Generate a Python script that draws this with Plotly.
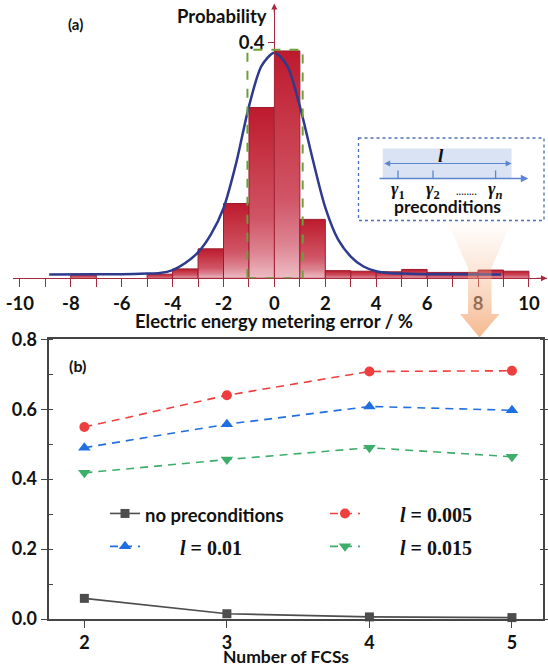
import plotly.graph_objects as go

# ---------------- data: panel (a) ----------------
bin_left = [-8, -5, -4, -3, -2, -1, 0, 1, 2, 3, 4, 5, 6, 7, 8, 9]
bin_prob = [0.007, 0.007, 0.016, 0.050, 0.127, 0.290, 0.386, 0.100,
            0.013, 0.012, 0.011, 0.015, 0.010, 0.010, 0.014, 0.012]
bin_width = 1
fit_x = [-8.85, -7, -6, -5, -4.5, -4, -3.5, -3, -2.5, -2, -1.5, -1, -0.5, 0,
         0.5, 1, 1.5, 2, 2.5, 3, 3.5, 4, 4.5, 5, 6, 7, 8.9]
fit_p = [0.0065, 0.0068, 0.007, 0.008, 0.009, 0.014, 0.026, 0.044, 0.074, 0.119,
         0.196, 0.292, 0.361, 0.383, 0.361, 0.292, 0.203, 0.120, 0.066, 0.037,
         0.020, 0.012, 0.009, 0.008, 0.007, 0.0068, 0.0065]
a_xticks = list(range(-10, 11))
a_xlabels = [str(v) if v % 2 == 0 else "" for v in a_xticks]
a_yticks = [0.4]
a_ylabels = ["0.4"]

# ---------------- data: panel (b) ----------------
fcs = [2, 3, 4, 5]
no_pre = [0.059, 0.015, 0.006, 0.004]
l_005 = [0.549, 0.640, 0.708, 0.710]
l_010 = [0.490, 0.557, 0.608, 0.597]
l_015 = [0.418, 0.456, 0.490, 0.464]
b_yticks = [0.0, 0.2, 0.4, 0.6, 0.8]

# ---------------- helpers ----------------
W, H = 548, 668
def px(x):
    return x / W
def py(y):
    return 1 - y / H

SANS = "Lato"
SERIF = "Liberation Serif"
RED_AX = "#A8283C"
GRAY_AX = "#454545"
BLUE_IN = "#5B85D0"

fig = go.Figure()

grad = [[0, "#EDBDC4"], [0.15, "#DD8492"], [0.35, "#D05566"], [0.7, "#C63646"], [1, "#BD1A2D"]]
for l, h in zip(bin_left, bin_prob):
    r = l + bin_width
    fig.add_trace(go.Scatter(
        x=[l, l, r, r, l], y=[0, h, h, 0, 0], mode="lines", fill="toself",
        fillgradient=dict(type="vertical", colorscale=grad),
        line=dict(color="#9B1B2D", width=1), xaxis="x", yaxis="y",
        showlegend=False, hoverinfo="skip"))

fig.add_trace(go.Scatter(
    x=fit_x, y=fit_p, mode="lines",
    line=dict(color="#2E3A8C", width=2.5, shape="spline", smoothing=0.8),
    xaxis="x", yaxis="y", showlegend=False, hoverinfo="skip"))

nb = "\u00a0"
def serif_name(txt, pad):
    return (f'<span style="font-family:{SERIF};font-size:20px">{nb * pad}'
            f'<i>l</i> = {txt}</span>')

fig.add_trace(go.Scatter(
    x=fcs, y=no_pre, mode="lines+markers",
    name='<span style="font-size:18.5px">no preconditions</span>',
    line=dict(color="#4D4D4D", width=1.6),
    marker=dict(symbol="square", size=9, color="#4D4D4D"),
    xaxis="x2", yaxis="y2", cliponaxis=False))
fig.add_trace(go.Scatter(
    x=fcs, y=l_005, mode="lines+markers", name=serif_name("0.005", 7),
    line=dict(color="#EF3E3E", width=1.6, dash="8px,6px"),
    marker=dict(symbol="circle", size=10, color="#EF3E3E"),
    xaxis="x2", yaxis="y2", cliponaxis=False))
fig.add_trace(go.Scatter(
    x=fcs, y=l_010, mode="lines+markers", name=serif_name("0.01", 7),
    line=dict(color="#1F6FE0", width=1.6, dash="8px,6px"),
    marker=dict(symbol="triangle-up", size=11, color="#1F6FE0"),
    xaxis="x2", yaxis="y2", cliponaxis=False))
fig.add_trace(go.Scatter(
    x=fcs, y=l_015, mode="lines+markers", name=serif_name("0.015", 7),
    line=dict(color="#3DAE6A", width=1.6, dash="8px,6px"),
    marker=dict(symbol="triangle-down", size=11, color="#3DAE6A"),
    xaxis="x2", yaxis="y2", cliponaxis=False))

# orange funnel arrow (decoration, pixel overlay)
fx = [447, 512, 491.5, 491.5, 499.5, 479.5, 460, 468, 468, 447]
fy = [221, 221, 268, 314, 314, 337.5, 314, 314, 268, 221]
fig.add_trace(go.Scatter(
    x=fx, y=fy, mode="lines", fill="toself", line=dict(width=0, color="rgba(0,0,0,0)"),
    fillgradient=dict(type="vertical", start=221, stop=337.5,
                      colorscale=[[0, "rgba(244,177,131,0)"], [0.4, "rgba(244,177,131,0.3)"],
                                  [0.68, "rgba(244,177,131,0.55)"], [1, "rgba(244,177,131,0.9)"]]),
    xaxis="x3", yaxis="y3", showlegend=False, hoverinfo="skip"))

boldA = dict(family=SANS, size=18.5, color="#111111", weight="bold")
boldB = dict(family=SANS, size=18, color="#111111", weight="bold")

fig.update_layout(
    width=W, height=H, margin=dict(l=0, r=0, t=0, b=0, autoexpand=False),
    paper_bgcolor="white", plot_bgcolor="rgba(0,0,0,0)",
    xaxis=dict(domain=[px(12.7), px(546.7)], range=[-10.283, 10.699], anchor="y",
               showline=True, linecolor=RED_AX, linewidth=1.2, ticks="outside",
               ticklen=8, tickcolor=RED_AX, tickwidth=1, tickvals=a_xticks,
               ticktext=a_xlabels, tickfont=boldA, showgrid=False, zeroline=False),
    yaxis=dict(domain=[py(278.3), py(5)], range=[0, 0.464], anchor="free",
               position=px(274.3), showline=True, linecolor=RED_AX, linewidth=1.2,
               ticks="outside", ticklen=6, tickcolor=RED_AX, tickvals=a_yticks,
               ticktext=a_ylabels, tickfont=boldA, showgrid=False, zeroline=False),
    xaxis2=dict(domain=[px(49.3), px(543.3)], range=[1.754, 5.22], anchor="y2",
                showline=True, mirror=True, linecolor=GRAY_AX, linewidth=1.5,
                ticks="outside", ticklen=7, tickcolor=GRAY_AX, tickvals=fcs,
                tickfont=boldB, showgrid=False, zeroline=False),
    xaxis4=dict(overlaying="x2", side="top", anchor="y2", range=[1.754, 5.22],
                ticks="inside", ticklen=7, tickcolor=GRAY_AX, tickvals=fcs,
                showticklabels=False, showline=False, showgrid=False, zeroline=False),
    yaxis2=dict(domain=[py(619), py(339.3)], range=[0, 0.8], anchor="x2",
                showline=True, mirror="ticks", linecolor=GRAY_AX, linewidth=1.5,
                ticks="outside", ticklen=7, tickcolor=GRAY_AX, tickvals=b_yticks,
                tickformat=".1f", tickfont=boldB, showgrid=False, zeroline=False,
                minor=dict(ticks="inside", ticklen=4, dtick=0.1, tickcolor=GRAY_AX,
                           showgrid=False)),
    xaxis3=dict(domain=[0, 1], range=[0, W], anchor="y3", visible=False, fixedrange=True),
    yaxis3=dict(domain=[0, 1], range=[H, 0], anchor="x3", visible=False, fixedrange=True),
    legend=dict(orientation="h", x=px(105), y=py(492), xanchor="left", yanchor="top",
                entrywidth=175, entrywidthmode="pixels", itemwidth=30,
                font=dict(family=SANS, size=23, color="#111111", weight="bold"),
                bgcolor="rgba(0,0,0,0)", traceorder="normal"),
    showlegend=True,
)

shapes = [
    # green dashed highlight box (data coords of panel a)
    dict(type="rect", xref="x", yref="y", x0=-1.06, x1=1.11, y0=0, y1=0.388,
         line=dict(color="#6E9E3C", width=2, dash="dash"), layer="above"),
    # inset box
    dict(type="rect", xref="x3", yref="y3", x0=358.5, x1=544, y0=138, y1=220.5,
         line=dict(color="#4A6FB5", width=1.3, dash="dot"), fillcolor="white", layer="above"),
    dict(type="rect", xref="x3", yref="y3", x0=382.7, x1=511.6, y0=148.5, y1=178.5,
         line=dict(width=0), fillcolor="#DAE3F3", layer="above"),
]
for tx in [398, 433, 495.6]:
    shapes.append(dict(type="line", xref="x3", yref="y3", x0=tx, x1=tx, y0=170.4, y1=178.5,
                       line=dict(color=BLUE_IN, width=1.3), layer="above"))
fig.update_layout(shapes=shapes)

ann = []
def text(x, y, t, font, xanchor="center"):
    ann.append(dict(xref="x3", yref="y3", x=x, y=y, text=t, showarrow=False,
                    font=font, xanchor=xanchor, yanchor="middle"))
def arrow(x, y, ax, ay, color, width, side="end"):
    ann.append(dict(xref="x3", yref="y3", axref="x3", ayref="y3", x=x, y=y, ax=ax, ay=ay,
                    text="", showarrow=True, arrowhead=2, arrowsize=1, arrowwidth=width,
                    arrowcolor=color, arrowside=side))

text(75, 24, "(a)", dict(family=SANS, size=15, color="#111111", weight="bold"))
text(269, 16, "Probability", boldA, xanchor="right")
text(274, 321, "Electric energy metering error / %", boldA)
text(77, 365, "(b)", dict(family=SANS, size=16, color="#111111", weight="bold"))
text(286, 656, "Number of FCSs", dict(family=SANS, size=17.5, color="#111111", weight="bold"))
text(441.3, 155, "<b><i>l</i></b>", dict(family=SERIF, size=19, color="#111111"))
for gx, sub in [(398, "1"), (433, "2"), (495.6, "<i>n</i>")]:
    text(gx, 190.5, f"<b><i>γ</i><sub>{sub}</sub></b>", dict(family=SERIF, size=18, color="#111111"))
text(466, 190, "........", dict(family=SANS, size=11, color="#111111"))
text(447, 206.4, "preconditions", dict(family=SANS, size=17.5, color="#111111", weight="bold"))

arrow(547, 278.3, 535, 278.3, RED_AX, 1.2)
arrow(274.3, 3.5, 274.3, 14, RED_AX, 1.2)
arrow(511.6, 163.5, 382.7, 163.5, BLUE_IN, 1.2, side="end+start")
arrow(528.3, 178.5, 378, 178.5, BLUE_IN, 1.5)

fig.update_layout(annotations=ann)

fig.write_html("out.html", config={"displayModeBar": False},
               post_script="document.body.style.margin='0px';document.body.style.overflow='hidden';")
